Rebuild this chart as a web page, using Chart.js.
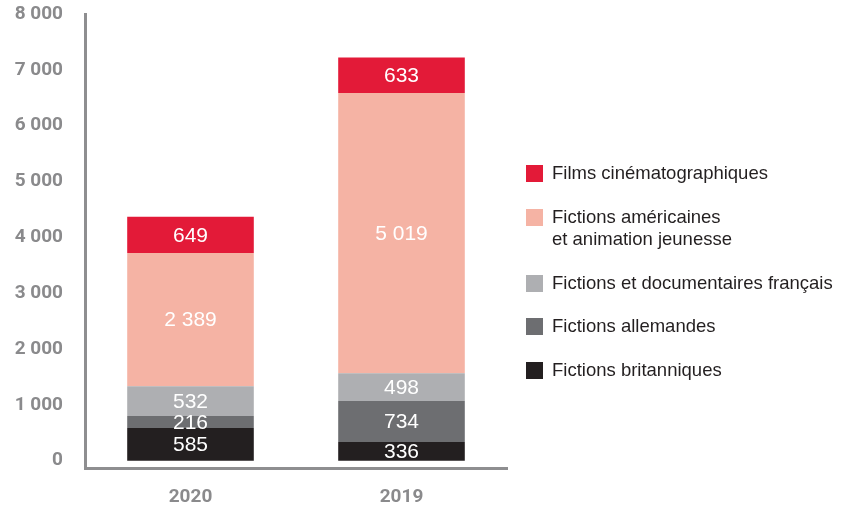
<!DOCTYPE html>
<html lang="fr">
<head>
<meta charset="utf-8">
<title>Programmes par origine</title>
<script src="https://cdn.jsdelivr.net/npm/chart.js@4/dist/chart.umd.min.js"></script>
<style>
  body { margin: 0; background: #fff; }
  #wrap { position: relative; width: 841px; height: 509px; }
  #legend {
    position: absolute; left: 526px; top: 162px;
    font: 18.5px "Liberation Sans", Arial, sans-serif; color: #231f20;
  }
  .row { display: flex; align-items: flex-start; margin-bottom: 21px; line-height: 22.5px; }
  .box { width: 17px; height: 17px; margin-top: 3px; margin-right: 9px; flex: none; }
  .txt { white-space: pre-line; }
</style>
</head>
<body>
<div id="wrap">
  <canvas id="chart" width="841" height="509"></canvas>
  <div id="legend"></div>
</div>
<script>
// données (du bas vers le haut de la pile)
const years = ["2020", "2019"];
const britanniques = [585, 336];
const allemandes = [216, 734];
const francais = [532, 498];
const americaines = [2389, 5019];
const films = [649, 633];
const yTicks = [0, 1000, 2000, 3000, 4000, 5000, 6000, 7000, 8000];

const series = [
  { label: "Fictions britanniques", data: britanniques, color: "#231f20" },
  { label: "Fictions allemandes", data: allemandes, color: "#6d6e71" },
  { label: "Fictions et documentaires français", data: francais, color: "#aeafb2" },
  { label: "Fictions américaines\net animation jeunesse", data: americaines, color: "#f5b3a4" },
  { label: "Films cinématographiques", data: films, color: "#e31a38" }
];

const fmt = v => String(v).replace(/\B(?=(\d{3})+(?!\d))/g, " ");
const grey = "#8a8a8c";

// valeurs au centre de chaque segment
const valueLabels = {
  id: "valueLabels",
  afterDatasetsDraw(chart) {
    const ctx = chart.ctx;
    ctx.save();
    ctx.fillStyle = "#fff";
    ctx.font = '21px "Liberation Sans", Arial, sans-serif';
    ctx.textAlign = "center";
    ctx.textBaseline = "middle";
    chart.data.datasets.forEach((ds, i) => {
      chart.getDatasetMeta(i).data.forEach((bar, j) => {
        const p = bar.getProps(["x", "y", "base"], true);
        ctx.fillText(fmt(ds.data[j]), p.x, (p.y + p.base) / 2 + 1);
      });
    });
    ctx.restore();
  }
};

new Chart(document.getElementById("chart"), {
  type: "bar",
  data: {
    labels: years,
    datasets: series.map(s => ({
      label: s.label,
      data: s.data,
      backgroundColor: s.color,
      barPercentage: 0.6,
      categoryPercentage: 1
    }))
  },
  options: {
    responsive: false,
    animation: false,
    layout: { padding: { top: 14, right: 334, left: 0, bottom: 0 } },
    plugins: { legend: { display: false }, tooltip: { enabled: false } },
    scales: {
      x: {
        stacked: true,
        grid: { display: false, drawTicks: false },
        border: { color: "#8e8e90", width: 3 },
        ticks: { color: grey, font: { family: "Roboto", size: 19, weight: "bold" }, padding: 18 },
        afterFit: s => { s.height = 41; s.paddingLeft = 0; s.paddingRight = 0; }
      },
      y: {
        stacked: true,
        min: -130,
        max: 8000,
        grid: { display: false, drawTicks: false },
        border: { color: "#8e8e90", width: 3 },
        afterBuildTicks: s => { s.ticks = yTicks.map(v => ({ value: v })); },
        ticks: {
          color: grey,
          font: { family: "Roboto", size: 19, weight: "bold" },
          padding: 22,
          callback: v => fmt(v)
        },
        afterFit: s => { s.width = 85; s.paddingTop = 0; s.paddingBottom = 0; }
      }
    }
  },
  plugins: [valueLabels]
});

// légende (ordre inversé, comme la pile)
document.getElementById("legend").innerHTML = series.slice().reverse().map(s =>
  `<div class="row"><span class="box" style="background:${s.color}"></span><span class="txt">${s.label}</span></div>`
).join("");
</script>
</body>
</html>
